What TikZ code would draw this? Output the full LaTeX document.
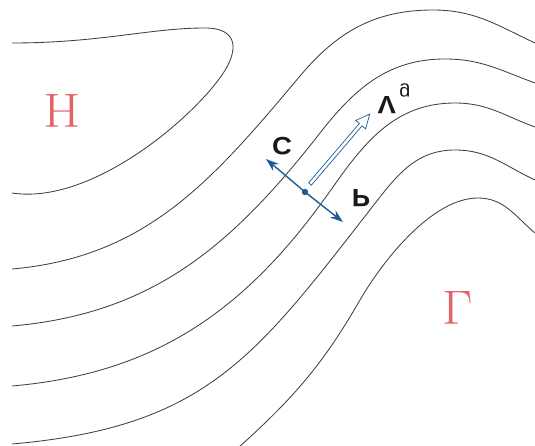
\documentclass[tikz,border=0pt]{standalone}
\usepackage{graphicx}
\usepackage{xcolor}
\usepackage{fontspec}
\newfontfamily\labelfont{Liberation Sans}
\usetikzlibrary{arrows.meta}
\definecolor{centrered}{RGB}{230,98,106}
\definecolor{forceblue}{RGB}{30,92,152}

\begin{document}
\begin{tikzpicture}[
  x=1pt, y=-1pt,
  isobar/.style={black!75, line width=0.85pt},
  force/.style={-{Stealth[length=13pt,width=9pt]}, forceblue, line width=1.4pt},
  centre/.style={text=centrered, font=\fontsize{48}{52}\selectfont, inner sep=0pt},
  vec/.style={text=black!90, font=\labelfont\bfseries\fontsize{25}{28}\selectfont, inner sep=0pt}
]
  \useasboundingbox (0,0) rectangle (535,446);
  \draw[isobar] (12,43) .. controls (100,43) and (150,28) .. (205,28)
    .. controls (240,28) and (238,52) .. (222,75)
    .. controls (190,121) and (90,205) .. (12,193);
  \draw[isobar] (12,269) to[out=5,in=230] (300,76) to[out=50,in=180] (433,10) to[out=0,in=155] (535,43);
  \draw[isobar] (12,326) to[out=5,in=232] (320,133) to[out=52,in=180] (445,59) to[out=0,in=160] (535,83);
  \draw[isobar] (12,386) to[out=5,in=235] (333,187) to[out=55,in=180] (455,103) to[out=0,in=160] (535,127);
  \draw[isobar] (12,444) to[out=5,in=232,looseness=1.15] (380,197) to[out=52,in=180] (455,150) to[out=0,in=155] (535,180);
  \draw[isobar] (238,448) to[out=42,in=240] (360,300) to[out=60,in=180,looseness=0.75] (478,198) to[out=0,in=140] (535,233);

  \node[centre] (high) at (62,111) {\scalebox{1.12}[-1]{H}};
  \node[centre] (low) at (458,308) {\scalebox{1.1}[-1]{L}};

  \coordinate (o) at (305,192);
  \coordinate (ctip) at (266,159);
  \coordinate (ptip) at (343,222);
  \coordinate (vtail) at (310,184);
  \draw[force] (o) -- (ctip);
  \draw[force] (o) -- (ptip);
  \fill[forceblue] (o) circle (3.2pt);
  \begin{scope}[shift={(vtail)}, rotate=49.5]
    \draw[forceblue, line width=0.7pt, fill=white] (0,-1.8) -- (78,-1.8) -- (78,-6.5) -- (92,0) -- (78,6.5) -- (78,1.8) -- (0,1.8) -- cycle;
  \end{scope}

  \node[vec] (cor) at (282,146) {\scalebox{1.1}[-1]{C}};
  \node[vec] (pgf) at (361,198) {\scalebox{1.1}[-1]{P}};
  \node[vec] (vg) at (394,99) {\scalebox{1.1}[-1]{V\kern3pt\raisebox{-9pt}{\mdseries\fontsize{18}{18}\selectfont g}}};
\end{tikzpicture}
\end{document}
